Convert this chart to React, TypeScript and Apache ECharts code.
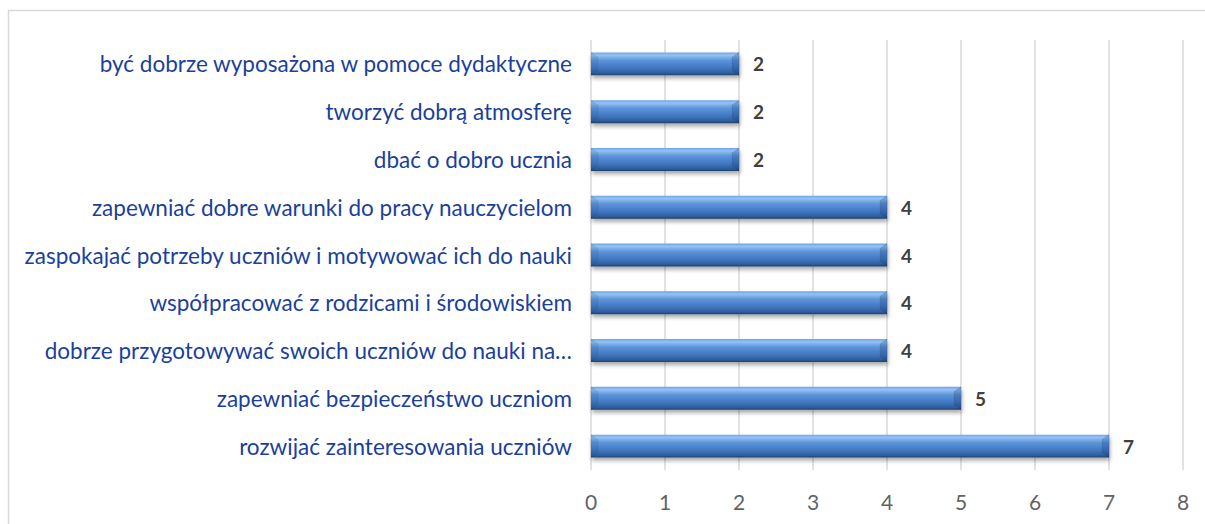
import React, { useEffect, useRef } from "react";
import * as echarts from "echarts";

const categories: string[] = [
  "być dobrze wyposażona w pomoce dydaktyczne",
  "tworzyć dobrą atmosferę",
  "dbać o dobro ucznia",
  "zapewniać dobre warunki do pracy nauczycielom",
  "zaspokajać potrzeby uczniów i motywować ich do nauki",
  "współpracować z rodzicami i środowiskiem",
  "dobrze przygotowywać swoich uczniów do nauki na…",
  "zapewniać bezpieczeństwo uczniom",
  "rozwijać zainteresowania uczniów",
];
const values: number[] = [2, 2, 2, 4, 4, 4, 4, 5, 7];
const xTicks: number[] = [0, 1, 2, 3, 4, 5, 6, 7, 8];

const BAR_RATIO = 0.48;

export default function App() {
  const ref = useRef<HTMLDivElement>(null);
  useEffect(() => {
    if (!ref.current) return;
    const chart = echarts.init(ref.current, null, { renderer: "svg" });
    const font = "Lato, 'Open Sans', sans-serif";
    chart.setOption({
      animation: false,
      backgroundColor: "#ffffff",
      graphic: [
        {
          type: "rect",
          shape: { x: 8.5, y: 10.5, width: 1400, height: 800 },
          style: { fill: "none", stroke: "#d9d9d9", lineWidth: 1.5 },
          silent: true,
        },
      ],
      grid: { left: 591, right: 22, top: 40, bottom: 54, containLabel: false },
      xAxis: {
        type: "value",
        min: xTicks[0],
        max: xTicks[xTicks.length - 1],
        interval: 1,
        axisLine: { show: false },
        axisTick: { show: false },
        splitLine: { show: true, lineStyle: { color: "#d9d9d9", width: 1.5 } },
        axisLabel: {
          color: "#636363",
          fontFamily: font,
          fontSize: 21,
          margin: 21,
        },
      },
      yAxis: {
        type: "category",
        inverse: true,
        data: categories,
        axisLine: { show: false },
        axisTick: { show: false },
        axisLabel: {
          color: "#1a3f9c",
          fontFamily: font,
          fontSize: 22.5,
          margin: 19,
        },
      },
      series: [
        {
          type: "bar",
          data: values,
          barWidth: BAR_RATIO * 100 + "%",
          itemStyle: {
            color: new echarts.graphic.LinearGradient(0, 0, 0, 1, [
              { offset: 0, color: "#6fa3e3" },
              { offset: 0.12, color: "#93c3f5" },
              { offset: 0.35, color: "#5d94d9" },
              { offset: 0.7, color: "#3e76bf" },
              { offset: 0.9, color: "#2f5e9c" },
              { offset: 1, color: "#223f6c" },
            ]),
            shadowColor: "rgba(0,0,0,0.35)",
            shadowBlur: 4,
            shadowOffsetY: 3,
            shadowOffsetX: 1,
          },
          label: {
            show: true,
            position: "right",
            distance: 14,
            color: "#404040",
            fontWeight: "bold",
            fontFamily: font,
            fontSize: 19,
          },
        },
        {
          type: "custom",
          silent: true,
          z: 5,
          data: values.map((v, i) => [v, i]),
          renderItem: (params: any, api: any) => {
            const start = api.coord([0, api.value(1)]);
            const end = api.coord([api.value(0), api.value(1)]);
            const h = api.size([0, 1])[1] * BAR_RATIO;
            const y0 = start[1] - h / 2;
            const y1 = start[1] + h / 2;
            const xs = start[0];
            const xe = end[0];
            const b = 7;
            return {
              type: "group",
              children: [
                {
                  type: "polygon",
                  shape: {
                    points: [
                      [xe - b, y0 + b * 0.7],
                      [xe, y0],
                      [xe, y1],
                      [xe - b, y1 - b * 0.7],
                    ],
                  },
                  style: { fill: "rgba(15,40,90,0.22)", stroke: "rgba(20,50,100,0.2)", lineWidth: 0.5 },
                },
                {
                  type: "polygon",
                  shape: {
                    points: [
                      [xs, y0],
                      [xs + b, y0 + b * 0.7],
                      [xs + b, y1 - b * 0.7],
                      [xs, y1],
                    ],
                  },
                  style: { fill: "rgba(20,60,120,0.12)", stroke: "rgba(20,50,100,0.15)", lineWidth: 0.5 },
                },
              ],
            };
          },
        },
      ],
    });
    return () => chart.dispose();
  }, []);
  return (
    <div
      ref={ref}
      style={{ position: "fixed", left: 0, top: 0, width: 1205, height: 524 }}
    />
  );
}
